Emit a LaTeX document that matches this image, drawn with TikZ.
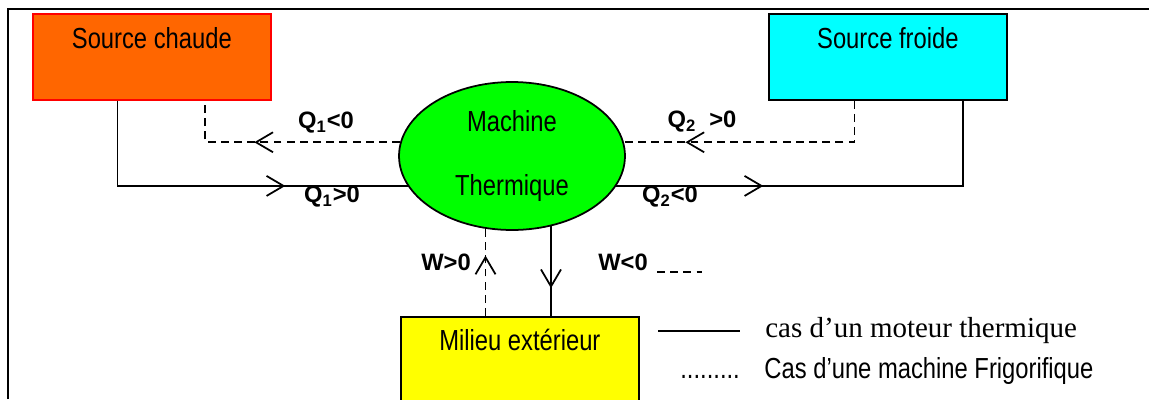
\documentclass[tikz,border=0pt]{standalone}
\usepackage{fontspec}
\setmainfont{Liberation Sans}[FakeStretch=0.82]
\newfontfamily\lblfont{Liberation Sans}
\newfontfamily\legfont{Liberation Serif}
\usetikzlibrary{arrows.meta,shapes.geometric,decorations.markings,calc}
\definecolor{hotorange}{HTML}{FF6600}
\definecolor{coldcyan}{HTML}{00FFFF}
\definecolor{mgreen}{HTML}{00FF00}
\definecolor{milieuyellow}{HTML}{FFFF00}
\tikzset{
  srcbox/.style={draw,line width=1pt,inner sep=0pt,minimum width=4.76cm,
    text height=0.7cm,text depth=1.02cm,anchor=north west,
    font=\fontsize{16.5}{19}\selectfont},
  machine/.style={ellipse,draw,line width=1pt,fill=mgreen,minimum width=4.52cm,
    minimum height=2.96cm,inner sep=0pt,align=center,font=\fontsize{16.5}{19}\selectfont},
  lbl/.style={font=\lblfont\bfseries\fontsize{13.5}{16}\selectfont,inner sep=0pt},
  flow/.style={line width=1pt},
  frigo/.style={dash pattern=on 4.5pt off 3pt},
  tipAt/.style={postaction={decorate,decoration={markings,
    mark=at position #1 with {\arrow{Straight Barb[length=3.4mm,width=4mm]}}}}}
}
\begin{document}
\begin{tikzpicture}[x=0.02cm,y=-0.02cm]
  \clip (0,0) rectangle (1149,399);
  \draw[line width=1.1pt] (8,399) -- (8,9) -- (1149,9);

  \node[srcbox,draw=red,fill=hotorange] (sc) at (32,13) {Source chaude};
  \node[srcbox,fill=coldcyan] (sf) at (768,13) {Source froide};
  \node[machine] (mt) at (512,156) {Machine\\[17pt]Thermique};
  \node[srcbox,fill=milieuyellow,text height=0.68cm,text depth=1.4cm] (me) at (400,316) {Milieu extérieur};

  % moteur thermique
  \draw[flow,tipAt=0.674] ($(sc.south west)!0.357!(sc.south east)$) |- (mt.196);
  \draw[flow,tipAt=0.34] (mt.-16) -| ($(sf.south west)!0.815!(sf.south east)$);
  \draw[flow,tipAt=0.69] (mt.-61) -- (mt.-61 |- me.north);
  % machine frigorifique
  \draw[flow,frigo,tipAt=0.617] (mt.173) -| ($(sc.south west)!0.723!(sc.south east)$);
  \draw[flow,frigo,tipAt=0.774] ($(sf.south west)!0.361!(sf.south east)$) |- (mt.7);
  \draw[flow,frigo,tipAt=0.693] (mt.-110 |- me.north) -- (mt.-110);

  \node[lbl] (q1neg) at (326,123) {Q\textsubscript{1}<0};
  \node[lbl] (q1pos) at (332,197) {Q\textsubscript{1}>0};
  \node[lbl] (q2pos) at (702,122) {Q\textsubscript{2}\ \ >0};
  \node[lbl] (q2neg) at (670,197) {Q\textsubscript{2}<0};
  \node[lbl] (wpos) at (446,262) {W>0};
  \node[lbl] (wneg) at (623,262) {W<0};
  \draw[flow,frigo] (657,272) -- (702,272);

  % legende
  \draw[flow] (658,331) -- (740,331);
  \node[anchor=base west,inner sep=0pt,font=\legfont\fontsize{16.5}{19}\selectfont] (legmot) at (765,337) {cas d’un moteur thermique};
  \node[anchor=base west,inner sep=0pt,font=\fontsize{16.5}{19}\selectfont] (legfri) at (680,378) {.........\hspace{14pt}Cas d’une machine Frigorifique};
\end{tikzpicture}
\end{document}
